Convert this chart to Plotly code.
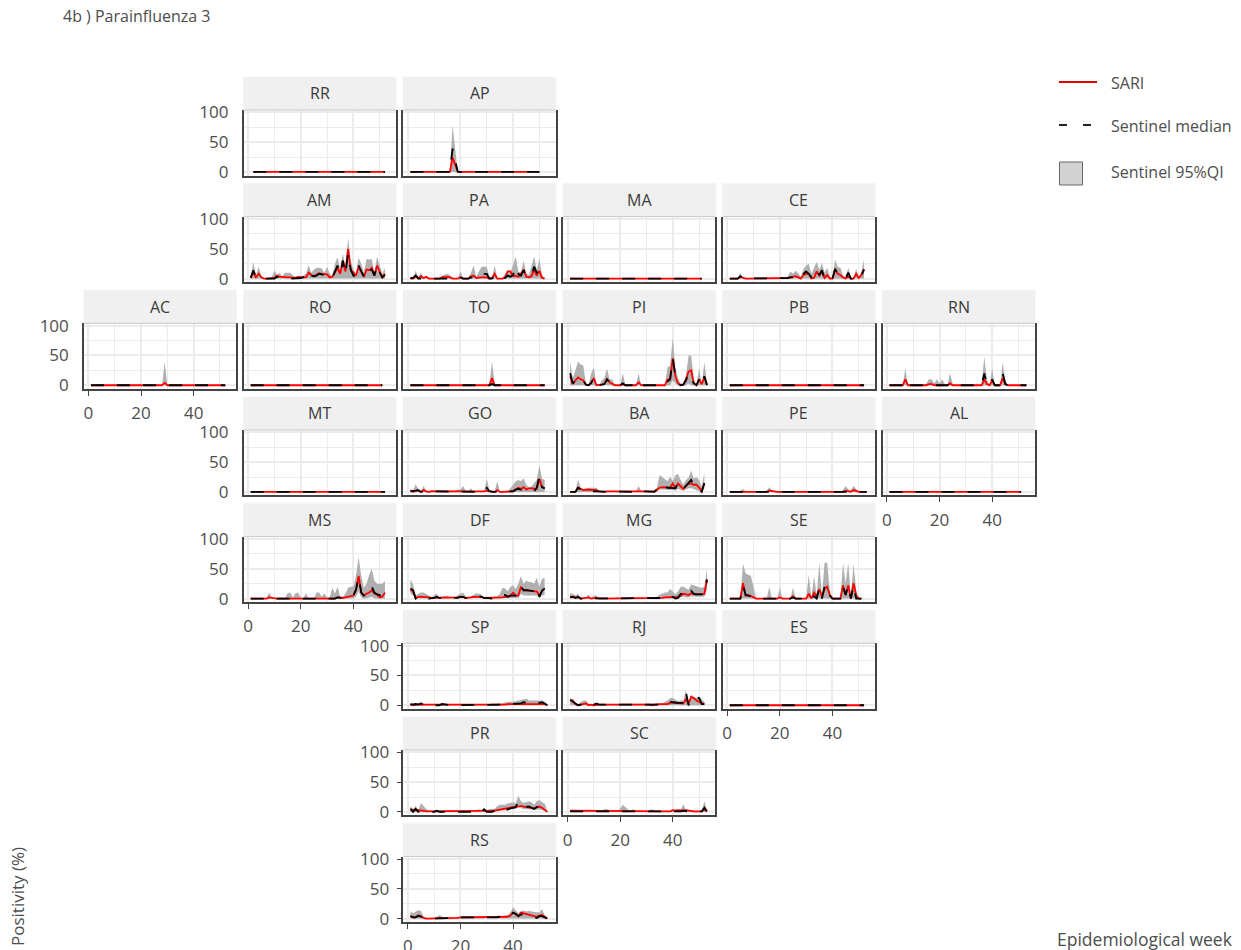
#!/usr/bin/env python3
# -*- coding: utf-8 -*-
import plotly.graph_objects as go

# week axis and an all-zero series for the empty states
WEEKS = [1, 2, 3, 4, 5, 6, 7, 8, 9, 10, 11, 12, 13, 14, 15, 16, 17, 18, 19, 20,
         21, 22, 23, 24, 25, 26, 27, 28, 29, 30, 31, 32, 33, 34, 35, 36, 37, 38, 39, 40,
         41, 42, 43, 44, 45, 46, 47, 48, 49, 50, 51, 52, 53]
ZERO = [0, 0, 0, 0, 0, 0, 0, 0, 0, 0, 0, 0, 0, 0, 0, 0, 0, 0, 0, 0,
        0, 0, 0, 0, 0, 0, 0, 0, 0, 0, 0, 0, 0, 0, 0, 0, 0, 0, 0, 0,
        0, 0, 0, 0, 0, 0, 0, 0, 0, 0, 0, 0, 0]

AP_sari = [0,0,0,0,0,0,0,0,0,0, 0,0,0,0,0,0,24,10,0,0, 0,0,0,0,0,0,0,0,0,0, 0,0,0,0,0,0,0,0,0,0, 0,0,0,0,0,0,0,0,0,0]
AP_med = [0,0,0,0,0,0,0,0,0,0, 0,0,0,0,0,0,39,18,0,0, 0,0,0,0,0,0,0,0,0,0, 0,0,0,0,0,0,0,0,0,0, 0,0,0,0,0,0,0,0,0,0]
AP_hi = [0,0,0,0,0,0,0,0,0,0, 0,0,0,0,0,0,78,40,0,0, 0,0,0,0,0,0,0,0,0,0, 0,0,0,0,0,0,0,0,0,0, 0,0,0,0,0,0,0,0,0,0]

AM_sari = [2,10,2,8,2, 0,0,0,0,1, 5,3,3,2,2, 2,1,1,3,3, 3,2,10,6,4, 7,9,8,7,7, 2,3,10,18,8, 30,12,50,15,10, 5,20,10,3,15, 14,18,5,22,12, 2,8]
AM_med = [1,14,2,0,0, 0,0,0,0,0, 3,2,2,0,0, 0,0,0,0,1, 2,3,12,5,4, 5,8,7,6,8, 2,2,12,22,8, 30,8,42,15,5, 2,22,12,4,18, 14,15,5,22,10, 2,6]
AM_hi = [3,28,5,20,5, 0,0,0,2,14, 6,10,3,10,10, 10,5,3,3,3, 5,8,23,10,15, 18,18,17,10,20, 8,4,25,36,15, 42,20,68,30,15, 8,35,25,10,33, 32,33,10,37,22, 8,18]

PA_sari = [0,0,4,1,4,1,3,0,0,0, 0,0,2,3,3,2,0,0,0,2, 0,0,0,4,5,1,2,2,2,2, 0,1,8,0,0,0,2,12,12,4, 5,3,8,15,3,2,4,15,5,13, 1,0]
PA_med = [1,1,5,0,0,0,0,0,0,0, 0,0,0,1,1,1,0,0,0,2, 0,0,0,2,2,1,6,8,8,8, 0,0,5,0,0,0,1,5,3,6, 20,8,5,14,5,3,5,20,10,13, 2,1]
PA_hi = [1,2,13,2,10,2,4,0,0,0, 0,0,5,7,8,6,2,0,0,12, 2,0,1,10,22,3,12,20,20,20, 3,1,22,1,0,1,8,15,10,25, 37,12,10,30,10,6,20,37,15,33, 6,2]

CE_sari = [0,0,0,0,3,1,0,0,0,0, 1,1,0,0,1,1,1,1,0,0, 0,0,1,2,3,4,2,0,6,8, 8,0,1,12,5,12,1,6,0,0, 16,8,6,2,0,3,0,0,8,1, 6,16]
CE_med = [0,0,0,0,4,0,0,0,0,0, 1,0,0,0,1,1,0,0,0,0, 0,0,1,2,2,2,2,0,8,12, 8,2,2,14,6,14,0,4,0,0, 16,8,4,2,0,10,0,0,3,0, 5,15]
CE_hi = [0,0,0,1,10,1,0,0,0,1, 2,1,0,1,2,2,2,2,1,0, 0,0,3,12,8,13,9,3,16,22, 25,8,18,28,15,26,10,18,3,1, 32,20,18,5,1,18,1,1,16,3, 12,32]

AC_sari = [0,0,0,0,0,0,0,0,0,0, 0,0,0,0,0,0,0,0,0,0, 0,0,0,0,0,0,0,0,4,0, 0,0,0,0,0,0,0,0,0,0, 0,0,0,0,0,0,0,0,0,0, 0,0]
AC_med = [0,0,0,0,0,0,0,0,0,0, 0,0,0,0,0,0,0,0,0,0, 0,0,0,0,0,0,0,0,1,0, 0,0,0,0,0,0,0,0,0,0, 0,0,0,0,0,0,0,0,0,0, 0,0]
AC_hi = [0,0,0,0,0,0,0,0,0,0, 0,0,0,0,0,0,0,0,0,0, 0,0,0,0,0,0,0,0,39,1, 0,0,0,0,0,0,0,0,0,0, 0,0,0,0,0,0,0,0,0,0, 0,0]

TO_sari = [0,0,0,0,0,0,0,0,0,0, 0,0,0,0,0,0,0,0,0,0, 0,0,0,0,0,0,0,0,0,0, 0,12,0,0,0,0,0,0,0,0, 0,0,0,0,0,0,0,0,0,0, 0,0]
TO_med = [0,0,0,0,0,0,0,0,0,0, 0,0,0,0,0,0,0,0,0,0, 0,0,0,0,0,0,0,0,0,0, 0,2,0,0,0,0,0,0,0,0, 0,0,0,0,0,0,0,0,0,0, 0,0]
TO_hi = [0,0,0,0,0,0,0,0,0,0, 0,0,0,0,0,0,0,0,0,0, 0,0,0,0,0,0,0,0,0,0, 0,40,3,0,0,0,0,0,0,0, 0,0,0,0,0,0,0,0,0,0, 0,0]

PI_sari = [15,2,8,13,10,8,1,0,4,12, 0,0,1,2,10,5,3,0,0,0, 2,0,0,0,0,0,5,0,0,0, 0,0,0,0,0,0,0,10,10,45, 15,3,0,1,10,23,25,3,0,10, 2,13,2]
PI_med = [20,3,8,13,10,8,1,0,4,12, 0,0,1,2,10,5,3,0,0,0, 3,0,0,0,0,0,5,0,0,0, 0,0,0,0,0,0,0,6,10,45, 15,3,0,1,8,20,12,3,0,10, 0,15,0]
PI_hi = [40,12,25,40,35,33,3,0,20,30, 0,0,8,12,28,10,10,0,0,0, 20,0,0,0,0,0,20,0,0,0, 0,0,0,0,0,0,0,30,33,80, 30,12,3,3,15,50,50,10,0,28, 3,38,5]
PI_lo = [0,0,0,0,0,0,0,0,0,0, 0,0,0,0,0,0,0,0,0,0, 0,0,0,0,0,0,0,0,0,0, 0,0,0,0,0,0,0,0,0,8, 3,0,0,0,0,3,0,0,0,0, 0,0,0]

RN_sari = [0,0,0,0,0,0,10,0,0,0, 0,0,0,0,0,2,2,0,0,0, 0,0,0,3,0,0,0,0,0,0, 0,0,0,0,0,0,10,2,0,8, 0,0,0,12,2,0,0,0,0,0, 0,0,0]
RN_med = [0,0,0,0,0,0,8,0,0,0, 0,0,0,0,0,0,0,0,0,0, 0,0,0,3,0,0,0,0,0,0, 0,0,0,0,0,0,20,2,0,10, 0,0,0,20,2,0,0,0,0,0, 0,0,0]
RN_hi = [0,0,0,0,0,0,28,0,0,0, 0,0,0,0,3,10,10,3,10,3, 10,2,0,20,2,0,0,0,0,0, 0,0,0,0,0,0,48,10,0,28, 0,0,0,38,8,0,0,0,0,0, 0,0,0]

GO_sari = [3,0,2,2,0,3,1,0,1,1, 1,1,1,1,1,1,1,1,1,1, 1,1,0,0,0,0,0,0,1,2, 1,0,0,3,0,0,0,0,1,1, 4,7,5,8,4,6,6,6,5,22, 8,6]
GO_med = [1,1,2,3,0,1,1,0,1,1, 1,1,0,0,0,1,1,1,0,0, 1,1,0,0,0,0,0,0,0,7, 1,0,0,1,0,0,0,0,1,1, 4,5,4,4,4,3,1,1,7,27, 8,6]
GO_hi = [4,2,13,5,1,10,2,1,3,3, 3,3,3,3,3,3,3,2,4,4, 10,2,1,6,1,0,0,0,1,22, 3,1,1,18,1,0,0,1,6,12, 18,20,18,23,12,8,9,15,20,45, 22,20]

BA_sari = [0,0,0,7,5,3,4,4,4,3, 3,1,0,0,1,1,1,1,0,0, 1,1,0,0,0,0,1,0,0,0, 0,0,1,4,7,8,8,7,7,14, 6,14,9,5,10,14,14,12,12,6, 2,14]
BA_med = [0,0,0,7,4,3,3,1,1,1, 1,0,0,0,0,1,1,1,0,0, 0,0,0,0,0,0,3,1,1,1, 1,0,0,4,12,10,8,7,7,7, 6,16,9,5,10,14,20,10,10,4, 0,15]
BA_hi = [1,1,2,20,8,5,4,7,7,7, 7,2,1,1,1,2,2,2,1,1, 2,2,1,1,1,1,10,2,2,2, 2,1,1,7,28,25,22,18,26,18, 28,30,20,12,20,24,36,22,25,20, 8,32]
BA_lo = [0,0,0,0,0,0,0,0,0,0, 0,0,0,0,0,0,0,0,0,0, 0,0,0,0,0,0,0,0,0,0, 0,0,0,0,4,4,3,3,3,3, 2,5,3,2,4,6,6,4,3,1, 0,5]

PE_sari = [0,0,0,0,0,0,0,0,0,0, 0,0,0,0,0,2,1,0,0,0, 0,0,0,0,0,0,0,0,0,0, 0,0,0,0,0,0,0,0,0,0, 0,0,0,0,2,1,0,3,1,0, 0,0,0]
PE_med = [0,0,0,0,0,0,0,0,0,0, 0,0,0,0,0,1,0,0,0,0, 0,0,0,0,0,0,0,0,0,0, 0,0,0,0,0,0,0,0,0,0, 0,0,0,0,1,0,0,0,0,0, 0,0,0]
PE_hi = [0,0,0,0,2,5,1,0,0,0, 0,0,0,0,2,8,3,1,0,0, 0,0,0,0,0,0,0,0,0,0, 0,0,0,0,0,0,0,0,0,0, 0,0,0,3,10,4,3,10,4,0, 0,0,0]

MS_sari = [0,0,0,0,0,0,0,2,1,0, 0,0,0,0,1,1,1,0,0,0, 0,0,0,0,0,0,0,0,0,0, 0,1,0,2,1,1,2,3,5,5, 15,38,10,5,8,10,14,8,7,2, 3,10]
MS_med = [0,0,0,0,0,0,0,1,0,0, 0,0,0,0,0,0,0,0,0,0, 0,0,0,0,0,0,0,0,0,0, 0,0,0,2,1,1,2,3,5,5, 15,36,10,5,10,10,20,10,7,6, 2,9]
MS_hi = [0,0,0,0,0,0,1,10,1,0, 0,2,2,0,9,10,2,9,10,2, 0,9,0,0,0,10,10,3,9,2, 2,18,8,20,4,3,8,18,20,20, 38,70,38,18,25,40,50,30,25,25, 25,30]
MS_lo = [0,0,0,0,0,0,0,0,0,0, 0,0,0,0,0,0,0,0,0,0, 0,0,0,0,0,0,0,0,0,0, 0,0,0,0,0,0,0,0,0,0, 3,12,2,0,0,1,3,0,0,0, 0,0]

DF_sari = [15,12,1,3,3,3,3,2,1,1, 2,1,2,2,2,1,1,1,2,3, 3,1,1,2,3,3,3,3,1,1, 1,1,1,1,2,2,3,3,5,10, 5,5,20,14,14,13,13,12,12,5, 13,17]
DF_med = [17,14,0,3,3,3,3,0,0,1, 3,1,1,1,1,1,1,1,1,3, 3,1,1,2,3,4,4,3,1,1, 0,0,1,1,2,6,6,3,5,5, 5,5,20,14,14,13,13,13,20,3, 13,17]
DF_hi = [32,24,5,8,10,10,8,5,2,6, 8,2,4,5,5,3,3,3,6,8, 10,3,2,4,7,9,8,7,2,1, 1,1,4,4,8,18,17,12,20,22, 16,25,38,25,30,28,28,25,35,20, 33,35]
DF_lo = [8,5,0,0,0,0,0,0,0,0, 0,0,0,0,0,0,0,0,0,0, 0,0,0,0,0,0,0,0,0,0, 0,0,0,0,0,0,0,0,1,1, 1,1,8,5,5,5,5,5,5,1, 5,6]

MG_sari = [2,3,2,2,0,1,1,2,0,1, 1,0,0,0,0,0,0,0,0,0, 0,0,0,0,0,0,0,0,0,0, 0,1,1,1,1,1,2,2,3,3, 2,3,5,8,7,6,9,7,7,7, 7,8,32]
MG_med = [3,3,1,3,0,0,0,0,0,0, 1,0,0,0,0,0,0,0,0,0, 0,0,0,0,0,0,0,0,0,0, 0,0,0,0,0,1,1,1,5,3, 0,1,8,8,6,4,13,8,7,7, 7,7,32]
MG_hi = [9,8,5,8,1,3,1,7,1,5, 5,1,0,0,0,0,0,0,2,2, 1,0,0,0,0,0,0,0,0,0, 1,2,1,3,7,8,10,10,16,12, 7,12,20,20,18,15,24,22,20,19, 18,20,50]
MG_lo = [0,0,0,0,0,0,0,0,0,0, 0,0,0,0,0,0,0,0,0,0, 0,0,0,0,0,0,0,0,0,0, 0,0,0,0,0,0,0,0,0,0, 0,0,2,3,2,2,4,3,3,3, 3,3,15]

SE_sari = [0,0,0,0,0,26,5,6,4,2, 0,0,0,0,0,1,0,0,0,2, 0,0,0,0,4,0,0,0,0,0, 8,0,10,4,16,3,16,20,6,0, 0,0,0,22,6,22,0,26,5,0, 0]
SE_med = [0,0,0,0,0,22,6,5,4,2, 0,0,0,0,0,0,0,0,0,0, 0,0,0,0,2,0,0,0,0,0, 3,0,4,0,18,0,20,22,5,0, 0,0,0,20,6,22,0,22,0,0, 0]
SE_hi = [0,0,0,0,0,59,42,40,38,20, 0,0,0,0,0,20,0,0,0,18, 0,0,0,0,18,0,0,0,0,0, 40,0,38,5,60,5,60,60,12,0, 0,0,0,60,25,60,3,58,15,0, 0]

SP_sari = [1,0,1,1,1,1,1,1,1,1, 1,1,1,0,1,1,1,1,1,1, 1,1,1,1,1,1,1,1,1,0, 1,1,1,1,1,1,1,2,2,2, 2,2,2,3,3,3,3,3,3,3, 3,2,0]
SP_med = [2,1,2,1,3,1,0,1,0,0, 0,0,2,1,0,0,0,0,0,0, 1,1,0,0,0,0,0,0,0,0, 0,1,1,1,1,1,2,3,2,2, 3,2,3,5,4,3,3,3,5,4, 5,3,0]
SP_hi = [3,3,3,3,4,2,2,2,1,1, 2,1,3,2,1,1,1,1,1,1, 2,2,1,1,1,1,1,2,2,1, 2,3,3,3,3,3,5,6,6,6, 7,7,8,10,11,8,8,8,9,8, 8,6,1]

RJ_sari = [8,8,2,0,1,2,3,0,1,0, 1,1,1,1,1,2,2,2,1,1, 1,1,1,1,1,1,1,1,1,1, 1,0,1,2,2,2,2,2,4,5, 4,4,3,3,10,3,14,12,8,6, 3,3]
RJ_med = [9,6,2,0,1,3,3,0,1,1, 3,1,1,1,1,1,1,1,1,1, 2,2,1,1,1,1,1,1,1,1, 2,1,1,1,1,2,1,3,6,5, 4,4,4,4,22,0,8,6,5,13, 2,2]
RJ_hi = [12,10,4,2,5,8,8,3,1,2, 3,2,2,2,2,3,3,3,2,2, 3,3,2,2,2,2,2,2,2,2, 3,2,2,3,3,3,6,8,12,12, 9,7,8,8,25,5,18,14,12,15, 10,5]

PR_sari = [4,3,3,3,2,2,1,1,1,1, 1,1,1,1,1,1,1,1,1,1, 1,1,1,1,1,1,2,1,2,1, 2,2,2,3,4,4,5,6,8,9, 9,9,10,9,8,8,7,6,8,9, 7,4,0]
PR_med = [5,0,5,0,0,0,1,0,0,0, 2,0,0,0,0,0,0,0,0,0, 1,1,0,0,0,0,3,1,4,0, 0,0,2,2,5,6,4,4,6,7, 8,17,10,8,8,9,7,5,8,9, 8,4,0]
PR_hi = [10,4,10,3,15,10,5,3,2,2, 4,2,3,3,3,3,3,2,2,2, 3,3,3,3,2,2,5,3,7,3, 5,5,5,10,12,12,12,14,15,16, 14,27,18,15,16,18,16,12,18,20, 16,14,2]
PR_lo = [0,0,0,0,0,0,0,0,0,0, 0,0,0,0,0,0,0,0,0,0, 0,0,0,0,0,0,0,0,0,0, 0,0,0,1,2,2,2,3,4,4, 5,9,6,5,5,5,4,3,4,4, 3,1,0]

SC_sari = [2,2,1,1,1,2,1,1,1,2, 1,1,1,1,1,1,1,1,1,1, 1,1,1,1,1,1,1,1,1,1, 1,1,1,1,1,1,1,1,1,3, 2,3,2,2,3,2,2,1,1,1, 1,4,1]
SC_med = [1,1,0,0,0,0,0,0,0,0, 1,1,1,1,1,0,0,0,0,1, 1,1,1,1,1,0,0,0,0,1, 1,1,1,1,1,0,0,0,0,1, 1,1,1,2,1,0,0,0,0,0, 1,7,1]
SC_hi = [3,3,2,1,1,2,1,1,1,2, 1,2,2,5,5,2,1,1,1,5, 12,8,4,2,5,1,1,1,1,1, 2,5,2,1,1,1,1,1,1,3, 3,4,3,13,3,2,2,1,1,1, 1,18,3]

RS_sari = [4,2,2,4,4,1,0,0,0,0, 1,1,1,0,0,1,1,1,1,2, 2,2,2,2,2,2,2,2,2,3, 3,3,3,3,3,3,3,3,5,10, 7,4,10,9,7,7,5,5,3,5, 6,3,0]
RS_med = [4,2,2,5,3,1,0,0,0,0, 1,1,1,1,0,0,0,0,1,2, 2,2,2,1,1,1,1,1,1,1, 2,2,2,2,3,3,3,3,5,10, 8,4,7,7,6,5,4,3,1,4, 4,2,0]
RS_hi = [12,9,12,14,13,3,1,0,0,0, 2,6,3,1,1,1,1,1,2,3, 3,3,3,3,3,4,4,3,3,3, 4,4,4,4,4,4,5,6,10,19, 14,9,12,14,12,13,12,11,10,10, 16,6,2]
RS_lo = [0,0,0,0,0,0,0,0,0,0, 0,0,0,0,0,0,0,0,0,0, 0,0,0,0,0,0,0,0,0,4, 3,0,4,3,0,0,0,0,0,0, 0,0,0,0,0,0,0,0,0,0, 0,0,0]

# state, row, col, first week, sari, median, upper, lower
panels = [
    ("RR", 0, 1, 2, ZERO[1:52], ZERO[1:52], ZERO[1:52], None),
    ("AP", 0, 2, 1, AP_sari, AP_med, AP_hi, None),
    ("AM", 1, 1, 1, AM_sari, AM_med, AM_hi, None),
    ("PA", 1, 2, 1, PA_sari, PA_med, PA_hi, None),
    ("MA", 1, 3, 1, ZERO[:51], ZERO[:51], ZERO[:51], None),
    ("CE", 1, 4, 1, CE_sari, CE_med, CE_hi, None),
    ("AC", 2, 0, 1, AC_sari, AC_med, AC_hi, None),
    ("RO", 2, 1, 1, ZERO[:51], ZERO[:51], ZERO[:51], None),
    ("TO", 2, 2, 1, TO_sari, TO_med, TO_hi, None),
    ("PI", 2, 3, 1, PI_sari, PI_med, PI_hi, PI_lo),
    ("PB", 2, 4, 1, ZERO[:52], ZERO[:52], ZERO[:52], None),
    ("RN", 2, 5, 1, RN_sari, RN_med, RN_hi, None),
    ("MT", 3, 1, 1, ZERO[:52], ZERO[:52], ZERO[:52], None),
    ("GO", 3, 2, 1, GO_sari, GO_med, GO_hi, None),
    ("BA", 3, 3, 1, BA_sari, BA_med, BA_hi, BA_lo),
    ("PE", 3, 4, 1, PE_sari, PE_med, PE_hi, None),
    ("AL", 3, 5, 1, ZERO[:51], ZERO[:51], ZERO[:51], None),
    ("MS", 4, 1, 1, MS_sari, MS_med, MS_hi, MS_lo),
    ("DF", 4, 2, 1, DF_sari, DF_med, DF_hi, DF_lo),
    ("MG", 4, 3, 1, MG_sari, MG_med, MG_hi, MG_lo),
    ("SE", 4, 4, 1, SE_sari, SE_med, SE_hi, None),
    ("SP", 5, 2, 1, SP_sari, SP_med, SP_hi, None),
    ("RJ", 5, 3, 1, RJ_sari, RJ_med, RJ_hi, None),
    ("ES", 5, 4, 1, ZERO[:52], ZERO[:52], ZERO[:52], None),
    ("PR", 6, 2, 1, PR_sari, PR_med, PR_hi, PR_lo),
    ("SC", 6, 3, 1, SC_sari, SC_med, SC_hi, None),
    ("RS", 7, 2, 1, RS_sari, RS_med, RS_hi, RS_lo),
]
y_labelled = ["RR", "AM", "AC", "MT", "MS", "SP", "PR", "RS"]
y_ticked = ["SP", "PR", "RS"]
x_labelled = ["AC", "MS", "AL", "ES", "SC", "RS"]

# the page body keeps its 8px margin, so the figure is drawn 8px in from the corner
OFFSET = 8
W, H = 1241 - OFFSET, 950 - OFFSET
FONT = "Open Sans"
TICK_GREY = "#4d4d4d"
AXIS_GREY = "#444444"
GRID = "#ebebeb"


def px(x):
    return (x - OFFSET) / W


def py(y):
    return 1 - (y - OFFSET) / H


fig = go.Figure()
shapes = []
annotations = []
axes = {}

for i, (state, row, col, first, sari, med, hi, lo) in enumerate(panels, start=1):
    assert len(sari) == len(med) == len(hi), state
    weeks = WEEKS[first - 1:first - 1 + len(sari)]
    lower = lo if lo is not None else ZERO[:len(sari)]
    assert len(lower) == len(sari), state
    xa, ya = f"x{i}", f"y{i}"

    fig.add_trace(go.Scatter(x=weeks, y=lower, xaxis=xa, yaxis=ya, mode="lines",
                             line=dict(width=0), showlegend=False, hoverinfo="skip"))
    fig.add_trace(go.Scatter(x=weeks, y=hi, xaxis=xa, yaxis=ya, mode="lines",
                             line=dict(width=0), fill="tonexty", fillcolor="#b0b0b0",
                             showlegend=False, name="Sentinel 95%QI"))
    fig.add_trace(go.Scatter(x=weeks, y=sari, xaxis=xa, yaxis=ya, mode="lines",
                             line=dict(color="#ff0000", width=1.8),
                             showlegend=False, name="SARI"))
    fig.add_trace(go.Scatter(x=weeks, y=med, xaxis=xa, yaxis=ya, mode="lines",
                             line=dict(color="#000000", width=1.8, dash="13px,13px"),
                             showlegend=False, name="Sentinel median"))

    left = 84 + 159.7 * col
    right = left + 152.3
    strip_top = 76.7 + 106.66 * row
    strip_bot = strip_top + 33.3
    bottom = strip_top + 98.8

    axes[f"xaxis{i}"] = dict(
        domain=[px(left), px(right)], anchor=ya, range=[-1.67, 56.2],
        tick0=0, dtick=20, showgrid=True, gridcolor=GRID, gridwidth=1.5,
        minor=dict(tick0=0, dtick=10, showgrid=True, gridcolor=GRID, gridwidth=1, ticks=""),
        zeroline=False, showline=True, linecolor=AXIS_GREY, linewidth=1.6,
        ticks="outside" if state in x_labelled else "", ticklen=5, tickcolor=AXIS_GREY, tickwidth=1.2,
        showticklabels=state in x_labelled, ticklabelstandoff=3,
        tickfont=dict(family=FONT, size=17, color=TICK_GREY),
    )
    axes[f"yaxis{i}"] = dict(
        domain=[py(bottom), py(strip_bot)], anchor=xa, range=[-6, 104],
        tick0=0, dtick=50, showgrid=True, gridcolor=GRID, gridwidth=1.5,
        minor=dict(tick0=0, dtick=25, showgrid=True, gridcolor=GRID, gridwidth=1, ticks=""),
        zeroline=False, showline=True, mirror=True, linecolor=AXIS_GREY, linewidth=1.6,
        ticks="outside" if state in y_ticked else "", ticklen=5, tickcolor=AXIS_GREY, tickwidth=1.2,
        showticklabels=state in y_labelled,
        ticklabelstandoff=4 if state in y_ticked else 10,
        tickfont=dict(family=FONT, size=17, color=TICK_GREY),
    )

    # facet strip
    shapes.append(dict(type="rect", xref="paper", yref="paper", layer="above",
                       x0=px(left - 0.5), x1=px(right + 0.5), y0=py(strip_bot), y1=py(strip_top),
                       fillcolor="#f0f0f0", line=dict(width=0)))
    shapes.append(dict(type="line", xref="paper", yref="paper", layer="above",
                       x0=px(left), x1=px(right), y0=py(strip_bot), y1=py(strip_bot),
                       line=dict(color="#c8c8c8", width=1)))
    annotations.append(dict(text=state, xref="paper", yref="paper", x=px((left + right) / 2),
                            y=py((strip_top + strip_bot) / 2), xanchor="center", yanchor="middle",
                            showarrow=False, font=dict(family=FONT, size=16, color="#3a3a3a")))


def label(text, x, y, size=16, **kw):
    annotations.append(dict(text=text, xref="paper", yref="paper", x=px(x), y=py(y),
                            yanchor=kw.pop("yanchor", "middle"), xanchor=kw.pop("xanchor", "left"),
                            showarrow=False, font=dict(family=FONT, size=size, color=TICK_GREY), **kw))


label("4b ) Parainfluenza 3", 61, 16)
label("Positivity (%)", 17, 897, size=17, xanchor="center", textangle=-90)
label("Epidemiological week", 1235, 939, size=17.5, xanchor="right")

# legend keys
shapes.append(dict(type="line", xref="paper", yref="paper", x0=px(1059), x1=px(1097), y0=py(82), y1=py(82),
                   line=dict(color="#e60000", width=2)))
shapes.append(dict(type="line", xref="paper", yref="paper", x0=px(1059), x1=px(1097), y0=py(125), y1=py(125),
                   line=dict(color="#222222", width=2, dash="8px,16px")))
shapes.append(dict(type="rect", xref="paper", yref="paper", x0=px(1059.5), x1=px(1082.5), y0=py(185), y1=py(162),
                   fillcolor="#d3d3d3", line=dict(color="#666666", width=1)))
label("SARI", 1109, 83)
label("Sentinel median", 1109, 126)
label("Sentinel 95%QI", 1109, 172)

fig.update_layout(width=W, height=H, margin=dict(l=0, r=0, t=0, b=0, autoexpand=False),
                  plot_bgcolor="white", paper_bgcolor="white", showlegend=False,
                  shapes=shapes, annotations=annotations, **axes)

fig.write_html("out.html")
